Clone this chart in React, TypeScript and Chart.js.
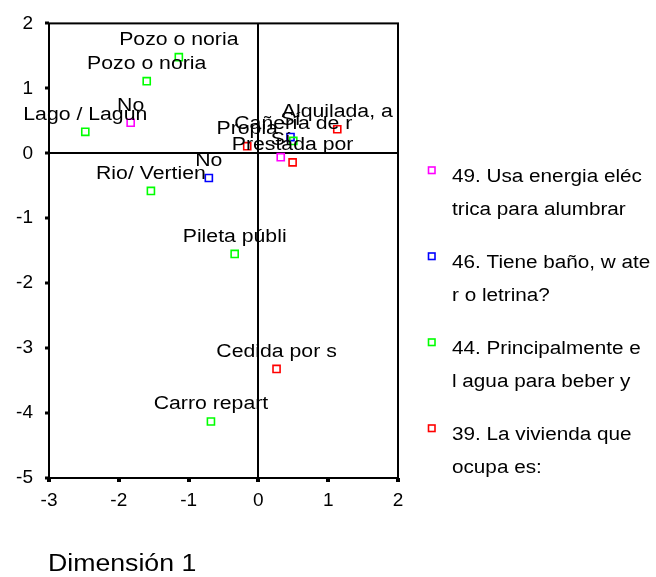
import React, { useEffect, useRef } from "react";
import { Chart, registerables } from "chart.js";

Chart.register(...registerables);

// Dimension coordinates
const vivienda39Labels = ["Propia", "Alquilada, a", "Prestada por", "Cedida por s"];
const vivienda39Dim1 = [-0.16, 1.13, 0.49, 0.26];
const vivienda39Dim2 = [0.11, 0.37, -0.14, -3.32];

const agua44Labels = ["Pozo o noria", "Pozo o noria", "Lago / Lagun", "Rio/ Vertien", "Cañería de r", "Pileta públi", "Carro repart"];
const agua44Dim1 = [-1.14, -1.6, -2.48, -1.54, 0.5, -0.34, -0.68];
const agua44Dim2 = [1.48, 1.11, 0.33, -0.58, 0.19, -1.55, -4.13];

const bano46Labels = ["Sí", "No"];
const bano46Dim1 = [0.46, -0.71];
const bano46Dim2 = [0.25, -0.38];

const energia49Labels = ["Sí", "No"];
const energia49Dim1 = [0.32, -1.83];
const energia49Dim2 = [-0.06, 0.47];

const seriesNames = [
  ["39. La vivienda que", "ocupa es:"],
  ["44. Principalmente e", "l agua para beber y"],
  ["46. Tiene baño, w ate", "r o letrina?"],
  ["49. Usa energia eléc", "trica para alumbrar"],
];
const seriesColors = ["#FF0000", "#00FF00", "#0000FF", "#FF00FF"];
const legendOrder = [3, 2, 1, 0];

const xTitle = "Dimensión 1";

const FONT = "'Liberation Sans', Arial, sans-serif";

function toPoints(xs: number[], ys: number[]) {
  return xs.map((x, i) => ({ x, y: ys[i] }));
}

const pointLabels = [vivienda39Labels, agua44Labels, bano46Labels, energia49Labels];

function drawStretched(ctx: CanvasRenderingContext2D, text: string, x: number, y: number, sx: number, align: CanvasTextAlign) {
  ctx.save();
  ctx.translate(x, y);
  ctx.scale(sx, 1);
  ctx.textAlign = align;
  ctx.textBaseline = "alphabetic";
  ctx.fillText(text, 0, 0);
  ctx.restore();
}

const customPlugin = {
  id: "customDraw",
  beforeDatasetsDraw(chart: any) {
    const { ctx, chartArea } = chart;
    ctx.save();
    ctx.strokeStyle = "#000";
    ctx.lineWidth = 2;
    ctx.strokeRect(chartArea.left, chartArea.top, chartArea.right - chartArea.left, chartArea.bottom - chartArea.top);
    ctx.restore();
  },
  afterDatasetsDraw(chart: any) {
    const ctx: CanvasRenderingContext2D = chart.ctx;
    ctx.save();
    ctx.fillStyle = "#000";
    ctx.font = `18px ${FONT}`;
    chart.data.datasets.forEach((ds: any, di: number) => {
      const meta = chart.getDatasetMeta(di);
      meta.data.forEach((el: any, i: number) => {
        drawStretched(ctx, pointLabels[di][i], el.x, el.y - 12, 1.18, "center");
      });
    });
    ctx.restore();
  },
  afterDraw(chart: any) {
    const ctx: CanvasRenderingContext2D = chart.ctx;
    ctx.save();
    // legend
    ctx.font = `18px ${FONT}`;
    legendOrder.forEach((di, k) => {
      const base = 182 + 86 * k;
      const ds = chart.data.datasets[di];
      ctx.strokeStyle = ds.borderColor;
      ctx.lineWidth = 1.6;
      ctx.strokeRect(428.5, base - 15, 6.5, 6.5);
      ctx.fillStyle = "#000";
      const lines = seriesNames[di];
      lines.forEach((t, li) => {
        drawStretched(ctx, t, 452, base + 33 * li, 1.15, "left");
      });
    });
    // axis title
    ctx.fillStyle = "#000";
    ctx.font = `23px ${FONT}`;
    drawStretched(ctx, xTitle, 48, 571, 1.16, "left");
    ctx.restore();
  },
};

export default function App() {
  const ref = useRef<HTMLCanvasElement | null>(null);
  useEffect(() => {
    if (!ref.current) return;
    const datasets = [
      toPoints(vivienda39Dim1, vivienda39Dim2),
      toPoints(agua44Dim1, agua44Dim2),
      toPoints(bano46Dim1, bano46Dim2),
      toPoints(energia49Dim1, energia49Dim2),
    ].map((data, i) => ({
      label: seriesNames[i].join(""),
      data,
      borderColor: seriesColors[i],
      backgroundColor: "rgba(0,0,0,0)",
      pointStyle: "rect",
      pointRadius: 5,
      borderWidth: 1.6,
      showLine: false,
    }));
    const gridColor = (c: any) => (c.tick && c.tick.value === 0 ? "#000" : "rgba(0,0,0,0)");
    const chart = new Chart(ref.current, {
      type: "scatter",
      data: { datasets },
      plugins: [customPlugin],
      options: {
        responsive: false,
        animation: false,
        events: [],
        layout: { padding: { top: 16, right: 258, left: 0, bottom: 0 } },
        plugins: { legend: { display: false }, tooltip: { enabled: false } },
        scales: {
          x: {
            type: "linear",
            min: -3,
            max: 2,
            ticks: { stepSize: 1, color: "#000", font: { family: FONT, size: 19 }, padding: 7 },
            grid: { color: gridColor, lineWidth: 2, tickColor: "#000", tickWidth: 4, tickLength: 4 },
            border: { display: false },
            afterFit: (s: any) => { s.height = 99; },
          },
          y: {
            type: "linear",
            min: -5,
            max: 2,
            ticks: { stepSize: 1, color: "#000", font: { family: FONT, size: 19 }, padding: 12 },
            grid: { color: gridColor, lineWidth: 2, tickColor: "#000", tickWidth: 3, tickLength: 4 },
            border: { display: false },
            afterFit: (s: any) => { s.width = 49; },
          },
        },
      },
    } as any);
    return () => chart.destroy();
  }, []);
  return (
    <div style={{ position: "fixed", left: 0, top: 0, width: 656, height: 577, background: "#fff" }}>
      <canvas ref={ref} width={656} height={577} style={{ display: "block" }} />
    </div>
  );
}
